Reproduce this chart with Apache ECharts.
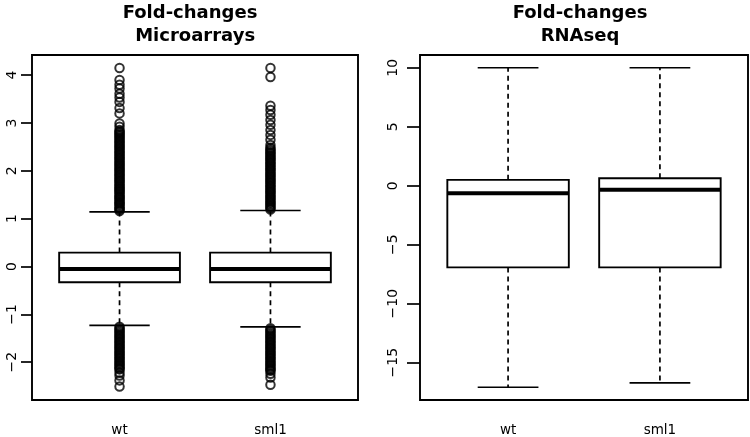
<!DOCTYPE html>
<html>
<head>
<meta charset="utf-8">
<script src="https://cdn.jsdelivr.net/npm/echarts@6/dist/echarts.min.js"></script>
<style>html,body{margin:0;padding:0;background:#fff}#c{width:750px;height:437px}</style>
</head>
<body>
<div id="c"></div>
<script>
// ---- data ----
const categories = ['wt', 'sml1'];
const titleLeft = ['Fold-changes', ' Microarrays'];
const titleRight = ['Fold-changes', 'RNAseq'];
// [lower whisker, Q1, median, Q3, upper whisker]
const microWt = [-1.23, -0.33, -0.05, 0.29, 1.14];
const microSml1 = [-1.26, -0.33, -0.05, 0.29, 1.17];
const rnaWt = [-17.08, -6.92, -0.63, 0.50, 10.0];
const rnaSml1 = [-16.71, -6.92, -0.35, 0.64, 10.0];
// outliers (Microarrays)
const microWtOut = [
  1.16,1.19,1.21,1.24,1.27,1.30,1.32,1.35,1.38,1.41,1.44,1.46,1.49,1.52,1.55,1.58,1.61,1.63,1.66,1.69,
  1.72,1.75,1.78,1.81,1.84,1.87,1.90,1.93,1.96,1.99,2.02,2.05,2.08,2.11,2.14,2.17,2.20,2.23,2.26,2.29,
  2.32,2.35,2.38,2.41,2.44,2.47,2.50,2.53,2.56,2.59,2.62,2.65,2.68,2.71,2.74,2.77,2.80,2.82,
  2.85,2.92,2.99,3.20,3.31,3.44,3.53,3.61,3.72,3.80,3.90,4.15,
  -1.26,-1.29,-1.32,-1.35,-1.38,-1.41,-1.44,-1.47,-1.50,-1.53,-1.56,-1.59,-1.62,-1.65,-1.68,-1.71,
  -1.74,-1.77,-1.80,-1.83,-1.86,-1.89,-1.92,-1.95,-1.98,-2.01,-2.04,-2.07,-2.10,-2.13,-2.15,
  -2.22,-2.28,-2.38,-2.51
];
const microSml1Out = [
  1.19,1.22,1.25,1.28,1.31,1.34,1.37,1.40,1.43,1.46,1.49,1.52,1.55,1.58,1.61,1.64,1.67,1.70,1.73,1.76,
  1.79,1.82,1.85,1.88,1.91,1.94,1.97,2.00,2.03,2.06,2.09,2.12,2.15,2.18,2.21,2.24,2.27,2.30,2.33,2.36,
  2.39,2.42,2.45,2.48,
  2.54,2.65,2.75,2.85,2.96,3.06,3.17,3.27,3.36,3.96,4.15,
  -1.29,-1.32,-1.35,-1.38,-1.41,-1.44,-1.47,-1.50,-1.53,-1.56,-1.59,-1.62,-1.65,-1.68,-1.71,-1.74,
  -1.77,-1.80,-1.83,-1.86,-1.89,-1.92,-1.95,-1.98,-2.01,-2.04,-2.07,-2.10,-2.13,-2.16,-2.18,
  -2.24,-2.32,-2.47
];
const microTicks = [-2, -1, 0, 1, 2, 3, 4];
const rnaTicks = [-15, -10, -5, 0, 5, 10];
const catPos = [1, 2];

// ---- chart ----
const FONT = "'DejaVu Sans', sans-serif";
const BOXWEX = 0.8;
function renderBox(params, api) {
  const x = api.value(0);
  const lo = api.coord([x, api.value(1)]);
  const q1 = api.coord([x, api.value(2)]);
  const md = api.coord([x, api.value(3)]);
  const q3 = api.coord([x, api.value(4)]);
  const hi = api.coord([x, api.value(5)]);
  const half = api.size([BOXWEX, 0])[0] / 2;
  const st = half / 2;
  const cx = md[0];
  const line = { stroke: '#000', lineWidth: 1.7 };
  const dash = { stroke: '#000', lineWidth: 1.7, lineDash: [5, 4] };
  return {
    type: 'group',
    children: [
      { type: 'line', shape: { x1: cx, y1: q3[1], x2: cx, y2: hi[1] }, style: dash },
      { type: 'line', shape: { x1: cx, y1: q1[1], x2: cx, y2: lo[1] }, style: dash },
      { type: 'line', shape: { x1: cx - st, y1: hi[1], x2: cx + st, y2: hi[1] }, style: line },
      { type: 'line', shape: { x1: cx - st, y1: lo[1], x2: cx + st, y2: lo[1] }, style: line },
      { type: 'rect', shape: { x: cx - half, y: q3[1], width: 2 * half, height: q1[1] - q3[1] },
        style: { fill: '#fff', stroke: '#000', lineWidth: 1.9 } },
      { type: 'line', shape: { x1: cx - half, y1: md[1], x2: cx + half, y2: md[1] },
        style: { stroke: '#000', lineWidth: 4 } }
    ]
  };
}
function boxData(a, b) {
  return [[catPos[0]].concat(a), [catPos[1]].concat(b)];
}
function outData(pos, arr) { return arr.map(v => [pos, v]); }
const minusFmt = v => String(v).replace('-', '\u2212');
function xAxisCfg(gi) {
  return {
    type: 'value', gridIndex: gi, min: 0.42, max: 2.58,
    axisLine: { show: false }, splitLine: { show: false },
    axisTick: { show: true, customValues: catPos, length: 10, lineStyle: { color: '#000', width: 1.7 } },
    axisLabel: { show: true, customValues: catPos, margin: 23, color: '#000', fontFamily: FONT, fontSize: 13.5,
      formatter: v => categories[catPos.indexOf(v)] }
  };
}
function yAxisCfg(gi, min, max, ticks, tl, margin) {
  return {
    type: 'value', gridIndex: gi, min: min, max: max,
    axisLine: { show: false }, splitLine: { show: false },
    axisTick: { show: true, customValues: ticks, length: tl, lineStyle: { color: '#000', width: 1.7 } },
    axisLabel: { show: true, customValues: ticks, rotate: 90, margin: margin, color: '#000',
      fontFamily: FONT, fontSize: 14, formatter: minusFmt }
  };
}
const outStyle = { color: 'rgba(0,0,0,0)', borderColor: '#000', borderWidth: 2 };
const titleFont = "bold 18px " + FONT;
const chart = echarts.init(document.getElementById('c'), null, { renderer: 'canvas' });
chart.setOption({
  animation: false,
  backgroundColor: '#fff',
  grid: [
    { left: 32, top: 55, width: 326, height: 346, show: true, borderColor: '#000', borderWidth: 1.9, backgroundColor: '#fff' },
    { left: 420, top: 55, width: 328, height: 346, show: true, borderColor: '#000', borderWidth: 1.9, backgroundColor: '#fff' }
  ],
  xAxis: [xAxisCfg(0), xAxisCfg(1)],
  yAxis: [
    yAxisCfg(0, -2.79, 4.42, microTicks, 11, 13),
    yAxisCfg(1, -18.16, 11.08, rnaTicks, 13, 20)
  ],
  graphic: [
    { type: 'text', x: 190, y: 13, style: { text: titleLeft[0], font: titleFont, fill: '#000', textAlign: 'center', textVerticalAlign: 'middle' } },
    { type: 'text', x: 192, y: 36, style: { text: titleLeft[1], font: titleFont, fill: '#000', textAlign: 'center', textVerticalAlign: 'middle' } },
    { type: 'text', x: 580, y: 13, style: { text: titleRight[0], font: titleFont, fill: '#000', textAlign: 'center', textVerticalAlign: 'middle' } },
    { type: 'text', x: 580, y: 36, style: { text: titleRight[1], font: titleFont, fill: '#000', textAlign: 'center', textVerticalAlign: 'middle' } }
  ],
  series: [
    { type: 'custom', xAxisIndex: 0, yAxisIndex: 0, renderItem: renderBox, encode: { x: 0, y: [1, 2, 3, 4, 5] },
      data: boxData(microWt, microSml1), z: 2 },
    { type: 'custom', xAxisIndex: 1, yAxisIndex: 1, renderItem: renderBox, encode: { x: 0, y: [1, 2, 3, 4, 5] },
      data: boxData(rnaWt, rnaSml1), z: 2 },
    { type: 'scatter', xAxisIndex: 0, yAxisIndex: 0, symbol: 'circle', symbolSize: 8.5, itemStyle: outStyle,
      data: outData(catPos[0], microWtOut).concat(outData(catPos[1], microSml1Out)), z: 3, large: false }
  ]
});
</script>
</body>
</html>
